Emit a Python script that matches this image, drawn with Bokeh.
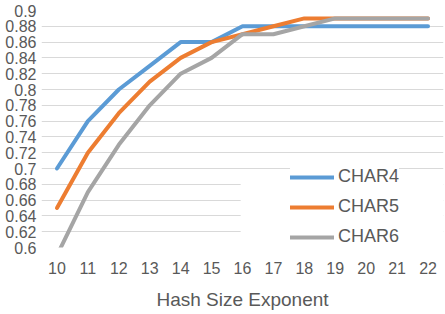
from bokeh.plotting import figure
from bokeh.models import FixedTicker, CustomJSTickFormatter, Legend, LegendItem, Range1d, BoxAnnotation
from bokeh.embed import file_html
from bokeh.resources import INLINE

exponents = [10, 11, 12, 13, 14, 15, 16, 17, 18, 19, 20, 21, 22]
char4 = [0.70, 0.76, 0.80, 0.83, 0.86, 0.86, 0.88, 0.88, 0.88, 0.88, 0.88, 0.88, 0.88]
char5 = [0.65, 0.72, 0.77, 0.81, 0.84, 0.86, 0.87, 0.88, 0.89, 0.89, 0.89, 0.89, 0.89]
char6 = [0.59, 0.67, 0.73, 0.78, 0.82, 0.84, 0.87, 0.87, 0.88, 0.89, 0.89, 0.89, 0.89]
series_names = ["CHAR4", "CHAR5", "CHAR6"]
y_ticks = [0.6, 0.62, 0.64, 0.66, 0.68, 0.7, 0.72, 0.74, 0.76, 0.78, 0.8, 0.82, 0.84, 0.86, 0.88, 0.9]
x_label = "Hash Size Exponent"

colors = ["#5B9BD5", "#ED7D31", "#A5A5A5"]
FONT = "Liberation Sans"
TXT = "#595959"

p = figure(width=445, height=314, output_backend="svg", toolbar_location=None,
           x_range=Range1d(9.5, 22.5), y_range=Range1d(0.6, 0.9))
p.min_border_left = 41
p.min_border_right = 2
p.min_border_top = 10
p.min_border_bottom = 67
p.outline_line_color = None
p.background_fill_color = "white"
p.border_fill_color = "white"

p.xgrid.grid_line_color = None
p.ygrid.grid_line_color = "#D9D9D9"
p.ygrid.grid_line_width = 1

for ax in (p.xaxis[0], p.yaxis[0]):
    ax.axis_line_color = None
    ax.major_tick_line_color = None
    ax.minor_tick_line_color = None
    ax.major_tick_out = 0
    ax.major_tick_in = 0
    ax.major_label_text_font = FONT
    ax.major_label_text_color = TXT
    ax.major_label_text_font_size = "16px"

p.xaxis.ticker = FixedTicker(ticks=exponents)
p.xaxis.major_label_standoff = 14
p.xaxis.axis_label = x_label
p.xaxis.axis_label_text_font = FONT
p.xaxis.axis_label_text_font_style = "normal"
p.xaxis.axis_label_text_font_size = "19px"
p.xaxis.axis_label_text_color = TXT
p.xaxis.axis_label_standoff = 12

p.yaxis.ticker = FixedTicker(ticks=y_ticks)
p.yaxis.formatter = CustomJSTickFormatter(code="return String(Math.round(tick*100)/100);")
p.yaxis.major_label_standoff = 5

items = []
for name, vals, c in zip(series_names, [char4, char5, char6], colors):
    r = p.line(exponents, vals, line_color=c, line_width=4, line_cap="round", line_join="round")
    items.append(LegendItem(label=name, renderers=[r]))

# legend area background (extends left over the gridlines, as in the reference)
cover = BoxAnnotation(left=15.94, right=None, top=0.694, bottom=None,
                      fill_color="white", fill_alpha=1.0, line_color=None, line_alpha=0,
                      level="underlay")
p.add_layout(cover)

legend = Legend(items=items, location=(249, 0), orientation="vertical")
legend.background_fill_color = "white"
legend.background_fill_alpha = 1.0
legend.border_line_color = None
legend.label_text_font = FONT
legend.label_text_font_size = "18px"
legend.label_text_color = TXT
legend.glyph_width = 44
legend.glyph_height = 20
legend.label_height = 20
legend.label_standoff = 4
legend.spacing = 9
legend.padding = 0
legend.margin = 0
p.add_layout(legend)

open("out.html", "w").write(file_html(p, INLINE))
